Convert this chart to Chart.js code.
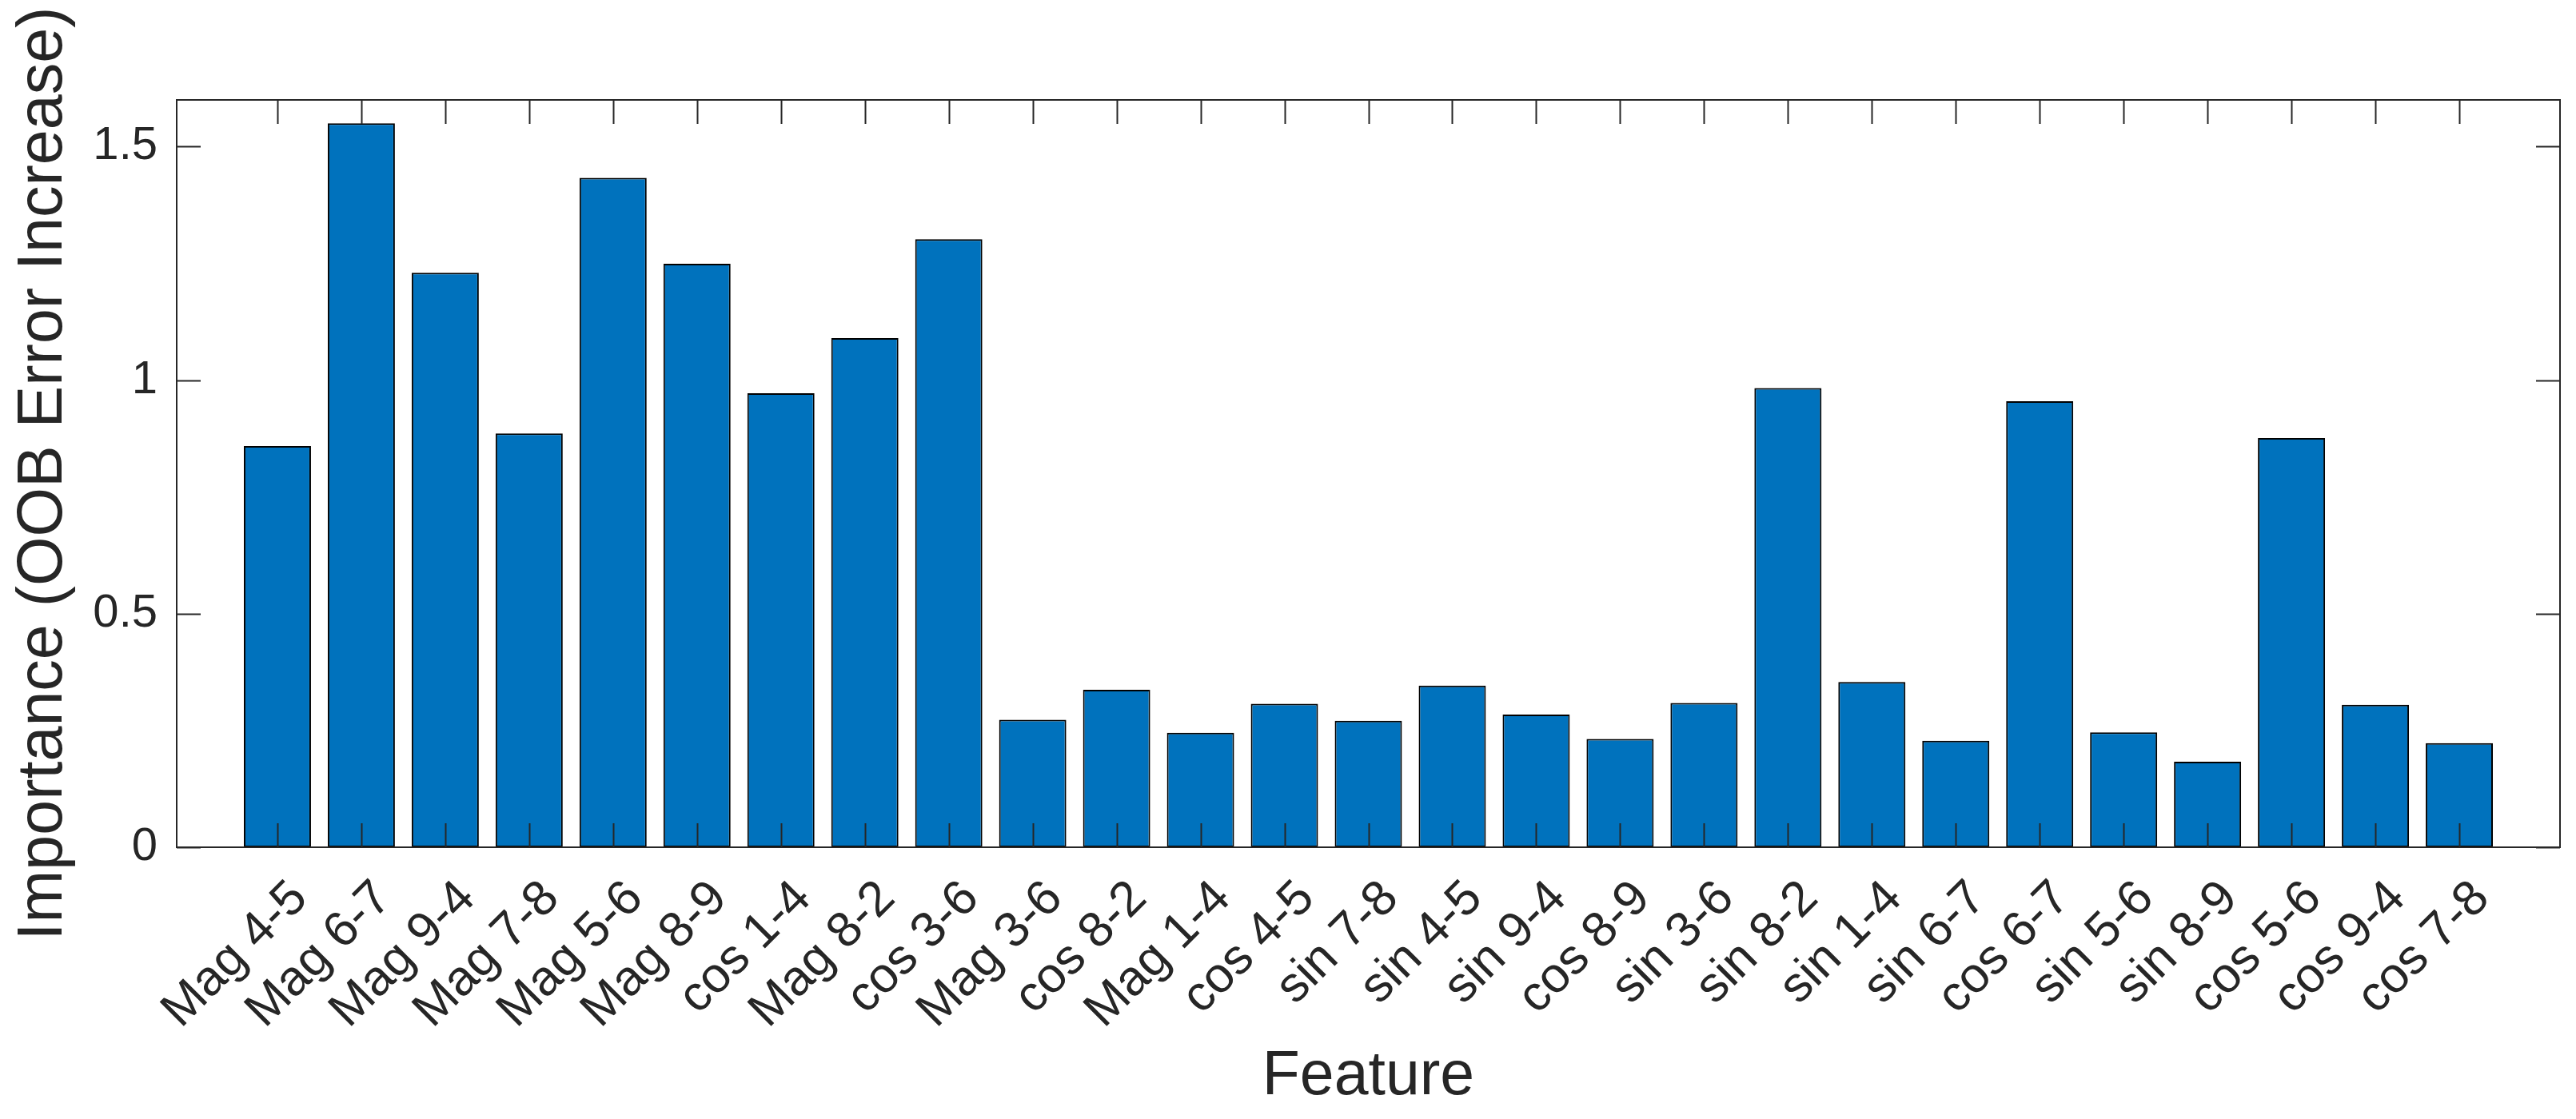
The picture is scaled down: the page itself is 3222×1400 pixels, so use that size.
<!DOCTYPE html>
<html>
<head>
<meta charset="utf-8">
<title>Feature importance</title>
<script src="https://cdn.jsdelivr.net/npm/chart.js@4/dist/chart.umd.min.js"></script>
<style>
  html, body { margin: 0; padding: 0; background: #ffffff; }
  #chart { display: block; }
</style>
</head>
<body>
<canvas id="chart" width="3222" height="1400"></canvas>
<script>
const featureLabels = [
    'Mag 4-5', 'Mag 6-7', 'Mag 9-4', 'Mag 7-8', 'Mag 5-6', 'Mag 8-9', 'cos 1-4',
    'Mag 8-2', 'cos 3-6', 'Mag 3-6', 'cos 8-2', 'Mag 1-4', 'cos 4-5', 'sin 7-8',
    'sin 4-5', 'sin 9-4', 'cos 8-9', 'sin 3-6', 'sin 8-2', 'sin 1-4', 'sin 6-7',
    'cos 6-7', 'sin 5-6', 'sin 8-9', 'cos 5-6', 'cos 9-4', 'cos 7-8'
];

const importance = [
    0.859, 1.550, 1.230, 0.886, 1.433, 1.249, 0.972,
    1.090, 1.302, 0.273, 0.337, 0.245, 0.307, 0.271,
    0.346, 0.284, 0.232, 0.309, 0.983, 0.354, 0.228,
    0.955, 0.246, 0.183, 0.876, 0.305, 0.223
];

const yTicks = [0, 0.5, 1, 1.5];

const axisColor = '#262626';
const fontFamily = '"Liberation Sans", Arial, Helvetica, sans-serif';

// matlab style box with ticks pointing inward
const boxPlugin = {
    id: 'boxPlugin',
    afterDraw(chart) {
        const ctx = chart.ctx;
        const area = chart.chartArea;
        const x = chart.scales.x;
        const y = chart.scales.y;
        const len = 30;

        ctx.save();
        ctx.strokeStyle = axisColor;
        ctx.lineWidth = 2;
        ctx.beginPath();

        x.ticks.forEach(t => {
            const px = Math.round(x.getPixelForValue(t.value)) + 0.5;
            ctx.moveTo(px, area.bottom);
            ctx.lineTo(px, area.bottom - len);
            ctx.moveTo(px, area.top);
            ctx.lineTo(px, area.top + len);
        });

        y.ticks.forEach(t => {
            const py = Math.round(y.getPixelForValue(t.value)) + 0.5;
            ctx.moveTo(area.left, py);
            ctx.lineTo(area.left + len, py);
            ctx.moveTo(area.right, py);
            ctx.lineTo(area.right - len, py);
        });

        ctx.rect(area.left, area.top, area.right - area.left, area.bottom - area.top);
        ctx.stroke();
        ctx.restore();
    }
};

const ctx = document.getElementById('chart');

const chart = new Chart(ctx, {
    type: 'bar',
    data: {
        datasets: [
            {
                label: 'Importance',
                data: importance.map((v, i) => ({ x: i + 1, y: v })),
                backgroundColor: '#0072BD',
                borderColor: '#000000',
                borderWidth: 2,
                borderSkipped: false,
                barPercentage: 0.8,
                categoryPercentage: 1.0
            }
        ]
    },
    options: {
        responsive: false,
        devicePixelRatio: 1,
        animation: false,
        layout: {
            padding: { top: 125, right: 20, left: 0, bottom: 0 }
        },
        plugins: {
            legend: { display: false },
            tooltip: { enabled: false }
        },
        scales: {
            x: {
                type: 'linear',
                min: -0.2,
                max: 28.2,
                offset: false,
                afterBuildTicks: (scale) => {
                    scale.ticks = featureLabels.map((_, i) => ({ value: i + 1 }));
                },
                afterFit: (scale) => {
                    scale.height = 340;
                },
                grid: { display: false, drawTicks: false },
                border: { display: false },
                ticks: {
                    autoSkip: false,
                    minRotation: 45,
                    maxRotation: 45,
                    padding: 28,
                    labelOffset: 28,
                    color: axisColor,
                    font: { family: fontFamily, size: 62 },
                    callback: (value, index) => featureLabels[index]
                },
                title: {
                    display: true,
                    text: 'Feature',
                    color: axisColor,
                    font: { family: fontFamily, size: 77 },
                    padding: { top: 0, bottom: 6 }
                }
            },
            y: {
                min: 0,
                max: 1.6,
                afterBuildTicks: (scale) => {
                    scale.ticks = yTicks.map(v => ({ value: v }));
                },
                afterFit: (scale) => {
                    scale.width = 221;
                },
                grid: { display: false, drawTicks: false },
                border: { display: false },
                ticks: {
                    padding: 24,
                    color: axisColor,
                    font: { family: fontFamily, size: 58 },
                    callback: (value) => String(value)
                },
                title: {
                    display: true,
                    text: 'Importance (OOB Error Increase)',
                    color: axisColor,
                    font: { family: fontFamily, size: 79 },
                    padding: { top: 8, bottom: 0 }
                }
            }
        }
    },
    plugins: [boxPlugin]
});
</script>
</body>
</html>
